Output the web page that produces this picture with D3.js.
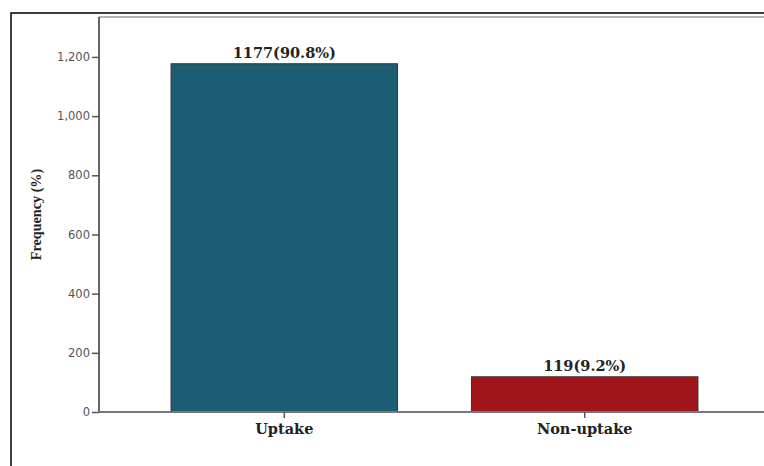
<!DOCTYPE html>
<html>
<head>
<meta charset="utf-8">
<script src="https://cdn.jsdelivr.net/npm/d3@7"></script>
<style>
  body { margin: 0; background: #fff; }
  svg { display: block; }
</style>
</head>
<body>
<svg id="chart" width="764" height="466"></svg>
<script>
const categories = ["Uptake", "Non-uptake"];
const counts = [1177, 119];
const percents = ["90.8%", "9.2%"];
const barColors = ["#1c5d73", "#a1161b"];
const yTicks = [0, 200, 400, 600, 800, 1000, 1200];
const yMax = 1335;

const width = 764, height = 466;
const plot = {left: 99, top: 17, bottom: 412, right: 780};

const svg = d3.select("#chart");

// outer frame (only left/top visible in the picture)
svg.append("rect")
  .attr("x", 11).attr("y", 13)
  .attr("width", width + 20).attr("height", height + 20)
  .attr("fill", "none").attr("stroke", "#000").attr("stroke-width", 1.5);

const yScale = d3.scaleLinear().domain([0, yMax]).range([plot.bottom, plot.top]);

const xScale = d3.scaleBand()
  .domain(categories)
  .range([133.5, 735.5])
  .paddingInner(0.246)
  .paddingOuter(0.125);

const data = categories.map((c, i) => ({cat: c, n: counts[i], pct: percents[i], color: barColors[i]}));

// inner frame top
svg.append("line")
  .attr("x1", plot.left).attr("x2", plot.right)
  .attr("y1", plot.top).attr("y2", plot.top)
  .attr("stroke", "#999").attr("stroke-width", 1.5);

// bars
svg.selectAll("rect.bar")
  .data(data)
  .enter()
  .append("rect")
  .attr("class", "bar")
  .attr("x", d => xScale(d.cat))
  .attr("width", xScale.bandwidth())
  .attr("y", d => yScale(d.n))
  .attr("height", d => yScale(0) - yScale(d.n))
  .attr("fill", d => d.color)
  .attr("stroke", "#333")
  .attr("stroke-width", 1);

// value labels
svg.selectAll("text.val")
  .data(data)
  .enter()
  .append("text")
  .attr("class", "val")
  .attr("x", d => xScale(d.cat) + xScale.bandwidth() / 2)
  .attr("y", d => yScale(d.n) - 6)
  .attr("text-anchor", "middle")
  .attr("font-family", "'DejaVu Serif', serif")
  .attr("font-weight", "bold")
  .attr("font-size", 14.5)
  .attr("fill", "#222")
  .text(d => `${d.n}(${d.pct})`);

// y axis
const yAxis = d3.axisLeft(yScale)
  .tickValues(yTicks)
  .tickSize(7)
  .tickPadding(2)
  .tickFormat(d3.format(","));

const yAxisG = svg.append("g")
  .attr("transform", `translate(${plot.left},0)`)
  .call(yAxis);
yAxisG.select(".domain")
  .attr("d", `M0,${plot.bottom}V${plot.top}`)
  .attr("stroke", "#666").attr("stroke-width", 2);
yAxisG.selectAll(".tick line").attr("stroke", "#555").attr("stroke-width", 1.5);
yAxisG.selectAll(".tick text")
  .attr("font-family", "'DejaVu Sans', sans-serif")
  .attr("font-size", 11.5)
  .attr("fill", "#555");

// x axis
const xAxis = d3.axisBottom(xScale).tickSize(6).tickPadding(6);
const xAxisG = svg.append("g")
  .attr("transform", `translate(0,${plot.bottom})`)
  .call(xAxis);
xAxisG.select(".domain")
  .attr("d", `M${plot.left},0H${plot.right}`)
  .attr("stroke", "#777").attr("stroke-width", 2);
xAxisG.selectAll(".tick line").attr("stroke", "#555").attr("stroke-width", 1.5);
xAxisG.selectAll(".tick text")
  .attr("font-family", "'DejaVu Serif', serif")
  .attr("font-weight", "bold")
  .attr("font-size", 14.5)
  .attr("fill", "#222");

// y axis title
svg.append("text")
  .attr("transform", `translate(41,${(plot.top + plot.bottom) / 2}) rotate(-90)`)
  .attr("text-anchor", "middle")
  .attr("font-family", "'Liberation Serif', serif")
  .attr("font-weight", "bold")
  .attr("font-size", 14.2)
  .attr("fill", "#222")
  .text("Frequency (%)");
</script>
</body>
</html>
